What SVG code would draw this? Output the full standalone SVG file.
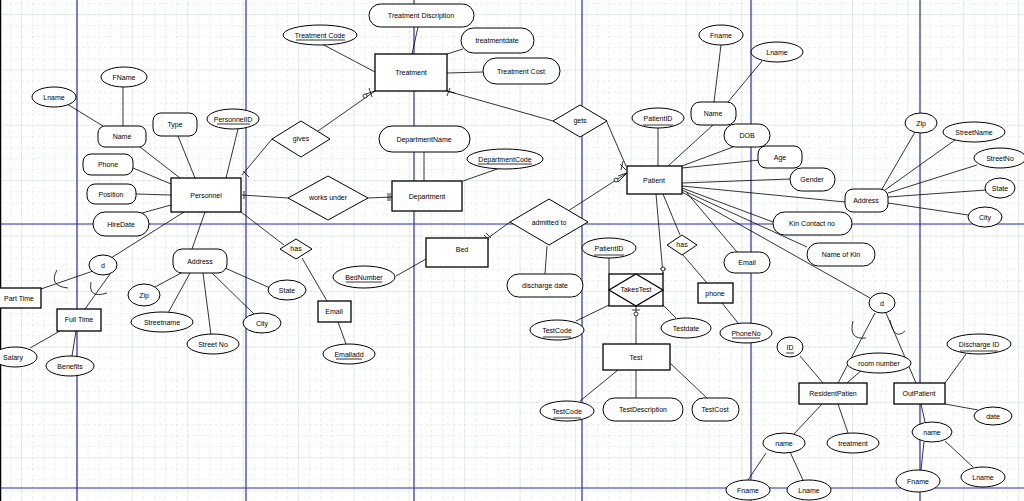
<svg xmlns="http://www.w3.org/2000/svg" width="1024" height="501" viewBox="0 0 1024 501">
<defs>
<pattern id="minor" patternUnits="userSpaceOnUse" x="21" y="14" width="11.08" height="11.08">
<line x1="0" y1="0" x2="0" y2="11.08" stroke="#c9dcdc" stroke-width="0.8" stroke-dasharray="3 2.54"/>
<line x1="0" y1="0" x2="11.08" y2="0" stroke="#c9dcdc" stroke-width="0.8" stroke-dasharray="3 2.54"/>
</pattern>
<pattern id="major" patternUnits="userSpaceOnUse" x="21" y="14" width="55.4" height="55.4">
<line x1="0" y1="0" x2="0" y2="55.4" stroke="#cfe0e0" stroke-width="1"/>
<line x1="0" y1="0" x2="55.4" y2="0" stroke="#cfe0e0" stroke-width="1"/>
</pattern>
<style>
.s{fill:#fff;stroke:#000;stroke-width:1}
.b{fill:#fff;stroke:#000;stroke-width:1.3}
.t{font-family:"Liberation Sans",Arial,sans-serif;font-size:7px;text-anchor:middle;fill:#000}
.c line,.c path{stroke:#000;stroke-width:0.8;fill:none}
.c circle{stroke:#000;stroke-width:0.8;fill:#fff}
.u{stroke:#000;stroke-width:0.8}
.pg{stroke:#2b2bb5;stroke-width:1.2}
</style>
</defs>
<rect width="1024" height="501" fill="#fff"/>
<rect width="1024" height="501" fill="url(#minor)"/>
<rect width="1024" height="501" fill="url(#major)"/>
<g id="pagebreaks">
<line class="pg" x1="77" y1="0" x2="77" y2="501"/>
<line class="pg" x1="246" y1="0" x2="246" y2="501"/>
<line class="pg" x1="414" y1="0" x2="414" y2="501"/>
<line class="pg" x1="582" y1="0" x2="582" y2="501"/>
<line class="pg" x1="751" y1="0" x2="751" y2="501"/>
<line class="pg" x1="920" y1="0" x2="920" y2="501"/>
<line class="pg" x1="0" y1="224" x2="1024" y2="224"/>
<line class="pg" x1="0" y1="488" x2="1024" y2="488"/>
<line x1="0.5" y1="0" x2="0.5" y2="501" stroke="#000" stroke-width="1.5"/>
</g>
<g id="connectors" class="c">
<line x1="140" y1="147" x2="180" y2="178"/>
<line x1="178" y1="136" x2="195" y2="178"/>
<line x1="238" y1="129" x2="226" y2="178"/>
<line x1="133" y1="168" x2="171" y2="184"/>
<line x1="136" y1="194" x2="171" y2="195"/>
<line x1="142" y1="213" x2="171" y2="205"/>
<line x1="184" y1="212" x2="111" y2="258"/>
<line x1="205" y1="212" x2="192" y2="249"/>
<line x1="242" y1="175" x2="272" y2="139"/>
<line x1="242" y1="195" x2="288" y2="198"/>
<line x1="241" y1="212" x2="284" y2="245"/>
<line x1="67" y1="104" x2="103" y2="126"/>
<line x1="123" y1="87" x2="123" y2="126"/>
<line x1="93" y1="271" x2="41" y2="289"/>
<line x1="110" y1="274" x2="85" y2="309"/>
<line x1="30" y1="348" x2="60" y2="331"/>
<line x1="72" y1="356" x2="76" y2="331"/>
<line x1="183" y1="272" x2="155" y2="287"/>
<line x1="190" y1="273" x2="168" y2="313"/>
<line x1="203" y1="273" x2="211" y2="335"/>
<line x1="212" y1="273" x2="255" y2="315"/>
<line x1="225" y1="268" x2="270" y2="288"/>
<line x1="302" y1="258" x2="327" y2="301"/>
<line x1="338" y1="322" x2="346" y2="344"/>
<line x1="322" y1="44" x2="375" y2="72"/>
<line x1="418" y1="27" x2="412" y2="54"/>
<line x1="463" y1="49" x2="447" y2="54"/>
<line x1="483" y1="72" x2="447" y2="73"/>
<line x1="318" y1="131" x2="375" y2="91"/>
<line x1="447" y1="91" x2="553" y2="121"/>
<line x1="606" y1="120" x2="626" y2="166"/>
<line x1="424" y1="152" x2="424" y2="181"/>
<line x1="463" y1="181" x2="500" y2="168"/>
<line x1="368" y1="198" x2="392" y2="197"/>
<line x1="396" y1="276" x2="426" y2="259"/>
<line x1="510" y1="222" x2="488" y2="238"/>
<line x1="568" y1="211" x2="627" y2="173"/>
<line x1="547" y1="246" x2="545" y2="274"/>
<line x1="658" y1="128" x2="658" y2="166"/>
<line x1="713" y1="125" x2="668" y2="166"/>
<line x1="721" y1="45" x2="714" y2="102"/>
<line x1="762" y1="61" x2="728" y2="102"/>
<line x1="733" y1="147" x2="682" y2="166"/>
<line x1="682" y1="168" x2="760" y2="160"/>
<line x1="682" y1="183" x2="790" y2="179"/>
<line x1="682" y1="186" x2="845" y2="202"/>
<line x1="682" y1="188" x2="773" y2="222"/>
<line x1="682" y1="190" x2="807" y2="247"/>
<line x1="682" y1="192" x2="870" y2="298"/>
<line x1="687" y1="193" x2="737" y2="252"/>
<line x1="656" y1="194" x2="663" y2="274"/>
<line x1="663" y1="194" x2="680" y2="235"/>
<line x1="683" y1="255" x2="707" y2="283"/>
<line x1="722" y1="303" x2="738" y2="323"/>
<line x1="882" y1="189" x2="915" y2="132"/>
<line x1="885" y1="190" x2="955" y2="140"/>
<line x1="888" y1="193" x2="977" y2="165"/>
<line x1="888" y1="197" x2="986" y2="190"/>
<line x1="888" y1="203" x2="968" y2="215"/>
<line x1="875" y1="313" x2="838" y2="383"/>
<line x1="886" y1="313" x2="916" y2="383"/>
<line x1="863" y1="369" x2="847" y2="383"/>
<line x1="800" y1="356" x2="823" y2="383"/>
<line x1="822" y1="404" x2="794" y2="434"/>
<line x1="838" y1="404" x2="848" y2="433"/>
<line x1="766" y1="453" x2="748" y2="480"/>
<line x1="790" y1="452" x2="803" y2="480"/>
<line x1="921" y1="404" x2="925" y2="422"/>
<line x1="945" y1="404" x2="978" y2="410"/>
<line x1="945" y1="383" x2="966" y2="354"/>
<line x1="924" y1="442" x2="921" y2="470"/>
<line x1="945" y1="441" x2="973" y2="467"/>
<line x1="636" y1="306" x2="636" y2="344"/>
<line x1="609" y1="305" x2="576" y2="321"/>
<line x1="663" y1="305" x2="676" y2="318"/>
<line x1="609" y1="258" x2="609" y2="274"/>
<line x1="618" y1="370" x2="580" y2="401"/>
<line x1="636" y1="370" x2="636" y2="398"/>
<line x1="670" y1="363" x2="707" y2="398"/>
<path d="M57 270 Q48 286 68 288"/>
<path d="M91 282 Q88 299 107 293"/>
<path d="M853 321 Q848 340 866 338"/>
<path d="M890 320 Q894 341 905 331"/>
<path d="M366 94 L375 91 M369 88 L372 97"/>
<circle cx="365" cy="96" r="2"/>
<path d="M450 88 L447 96 M447 91 L455 93"/>
<path d="M388 193 L388 201 M390 193 L390 201"/>
<path d="M484 235 L489 240 M486 233 L491 238"/>
<path d="M620 164 L626 170 M623 161 L621 170"/>
<path d="M618 176 L627 173 M618 182 L627 173"/>
<circle cx="616" cy="180" r="2"/>
<path d="M243 171 L249 177 M244 191 L244 199"/>
<path d="M660 269 L666 269 M663 272 L663 274"/>
<circle cx="663" cy="269" r="2"/>
<path d="M632 310 L640 310"/>
<circle cx="636" cy="314" r="2"/>
</g>
<g id="Treatment"><rect class="b" x="375" y="54" width="72" height="37"/><text class="t" x="411" y="75">Treatment</text></g>
<g id="Personnel"><rect class="b" x="171" y="178" width="70" height="34"/><text class="t" x="206" y="198">Personnel</text></g>
<g id="Department"><rect class="b" x="392" y="181" width="70" height="30"/><text class="t" x="427" y="199">Department</text></g>
<g id="Bed"><rect class="b" x="426" y="238" width="62" height="29"/><text class="t" x="462" y="252">Bed</text></g>
<g id="Patient"><rect class="b" x="627" y="166" width="55" height="28"/><text class="t" x="654" y="183">Patient</text></g>
<g id="EmailP"><rect class="b" x="318" y="301" width="33" height="21"/><text class="t" x="334" y="314">Email</text></g>
<g id="Test"><rect class="b" x="603" y="344" width="67" height="26"/><text class="t" x="636" y="360">Test</text></g>
<g id="phone"><rect class="b" x="698" y="283" width="35" height="20"/><text class="t" x="715" y="296">phone</text></g>
<g id="PartTime"><rect class="b" x="-2" y="288" width="43" height="20"/><text class="t" x="19" y="301">Part Time</text></g>
<g id="FullTime"><rect class="b" x="57" y="309" width="44" height="22"/><text class="t" x="79" y="322">Full Time</text></g>
<g id="ResidentPatient"><rect class="b" x="799" y="383" width="68" height="21"/><text class="t" x="833" y="396">ResidentPatien</text></g>
<g id="OutPatient"><rect class="b" x="894" y="383" width="51" height="21"/><text class="t" x="919" y="396">OutPatient</text></g>
<g id="TakesTest"><rect class="b" x="609" y="274" width="54" height="32"/><polygon class="b" points="636,274 663,290 636,306 609,290"/><text class="t" x="636" y="292">TakesTest</text></g>
<g id="gives"><polygon class="s" points="301,121 330,139 301,157 272,139"/><text class="t" x="301" y="141">gives</text></g>
<g id="worksunder"><polygon class="s" points="328,176 368,198 328,220 288,198"/><text class="t" x="328" y="200">works under</text></g>
<g id="hasP"><polygon class="s" points="296,239 312,249 296,259 280,249"/><text class="t" x="296" y="251">has</text></g>
<g id="gets"><polygon class="s" points="580,105 607,121 580,137 553,121"/><text class="t" x="580" y="123">gets</text></g>
<g id="admittedto"><polygon class="s" points="549,199 588,222 549,245 510,222"/><text class="t" x="549" y="225">admitted to</text></g>
<g id="hasPa"><polygon class="s" points="682,235 697,245 682,255 667,245"/><text class="t" x="682" y="247">has</text></g>
<g id="LnameP"><ellipse class="s" cx="54" cy="97" rx="22" ry="10"/><text class="t" x="54" y="99.5">Lname</text></g>
<g id="FNameP"><ellipse class="s" cx="124" cy="77" rx="23" ry="10"/><text class="t" x="124" y="79.5">FName</text></g>
<g id="PersonnelID"><ellipse class="s" cx="233" cy="119" rx="26" ry="10"/><text class="t" x="233" y="121.5">PersonnelID</text><line class="u" x1="217" y1="124" x2="250" y2="124"/></g>
<g id="NameP"><rect class="s" x="98" y="126" width="48" height="21" rx="7"/><text class="t" x="122" y="139">Name</text></g>
<g id="Type"><rect class="s" x="153" y="113" width="44" height="23" rx="8"/><text class="t" x="175" y="127">Type</text></g>
<g id="Phone"><rect class="s" x="83" y="154" width="50" height="21" rx="8"/><text class="t" x="108" y="167">Phone</text></g>
<g id="Position"><rect class="s" x="87" y="184" width="49" height="20" rx="8"/><text class="t" x="111" y="196.5">Position</text></g>
<g id="HireDate"><rect class="s" x="93" y="212" width="56" height="24" rx="12"/><text class="t" x="121" y="226.5">HireDate</text></g>
<g id="dP"><ellipse class="s" cx="103" cy="265" rx="14" ry="10"/><text class="t" x="103" y="267.5">d</text></g>
<g id="AddressP"><rect class="s" x="173" y="249" width="54" height="24" rx="9"/><text class="t" x="200" y="263.5">Address</text></g>
<g id="ZipP"><ellipse class="s" cx="144" cy="295" rx="16" ry="11"/><text class="t" x="144" y="297.5">Zip</text></g>
<g id="Streetname"><ellipse class="s" cx="162" cy="322" rx="31" ry="10"/><text class="t" x="162" y="324.5">Streetname</text></g>
<g id="StreetNoP"><ellipse class="s" cx="213" cy="344" rx="26" ry="10"/><text class="t" x="213" y="346.5">Street No</text></g>
<g id="CityP"><ellipse class="s" cx="262" cy="323" rx="19" ry="10"/><text class="t" x="262" y="325.5">City</text></g>
<g id="StateP"><ellipse class="s" cx="287" cy="290" rx="19" ry="10"/><text class="t" x="287" y="292.5">State</text></g>
<g id="Emailadd"><ellipse class="s" cx="349" cy="354" rx="26" ry="10"/><text class="t" x="349" y="356.5">Emailadd</text><line class="u" x1="336" y1="359" x2="362" y2="359"/></g>
<g id="Salary"><ellipse class="s" cx="15" cy="357" rx="22" ry="10"/><text class="t" x="13" y="359.5">Salary</text></g>
<g id="Benefits"><ellipse class="s" cx="70" cy="366" rx="24" ry="10"/><text class="t" x="70" y="368.5">Benefits</text></g>
<g id="TreatmentDiscription"><rect class="s" x="369" y="4" width="105" height="23" rx="11.5"/><text class="t" x="421" y="18">Treatment Discription</text></g>
<g id="TreatmentCode"><ellipse class="s" cx="320" cy="35" rx="37" ry="10"/><text class="t" x="320" y="37.5">Treatment Code</text><line class="u" x1="296" y1="40" x2="345" y2="40"/></g>
<g id="treatmentdate"><rect class="s" x="461" y="28" width="73" height="25" rx="12.5"/><text class="t" x="497" y="43">treatmentdate</text></g>
<g id="TreatmentCost"><rect class="s" x="483" y="58" width="77" height="26" rx="13"/><text class="t" x="521" y="73.5">Treatment Cost</text></g>
<g id="DepartmentName"><rect class="s" x="379" y="126" width="91" height="26" rx="13"/><text class="t" x="424" y="141.5">DepartmentName</text></g>
<g id="DepartmentCode"><ellipse class="s" cx="505" cy="159" rx="38" ry="10"/><text class="t" x="505" y="161.5">DepartmentCode</text><line class="u" x1="478" y1="164" x2="532" y2="164"/></g>
<g id="BedNumber"><ellipse class="s" cx="364" cy="277" rx="31" ry="11"/><text class="t" x="364" y="279.5">BedNumber</text><line class="u" x1="346" y1="282" x2="382" y2="282"/></g>
<g id="PatientID1"><ellipse class="s" cx="658" cy="118" rx="26" ry="10"/><text class="t" x="658" y="120.5">PatientID</text><line class="u" x1="643" y1="125" x2="673" y2="125"/></g>
<g id="NamePa"><rect class="s" x="691" y="102" width="45" height="23" rx="9"/><text class="t" x="713" y="116">Name</text></g>
<g id="FnamePa"><ellipse class="s" cx="721" cy="35" rx="22" ry="10"/><text class="t" x="721" y="37.5">Fname</text></g>
<g id="LnamePa"><ellipse class="s" cx="777" cy="52" rx="26" ry="10"/><text class="t" x="777" y="54.5">Lname</text></g>
<g id="DOB"><rect class="s" x="724" y="124" width="46" height="23" rx="11.5"/><text class="t" x="747" y="138">DOB</text></g>
<g id="Age"><rect class="s" x="758" y="146" width="44" height="22" rx="8"/><text class="t" x="780" y="159.5">Age</text></g>
<g id="Gender"><rect class="s" x="790" y="168" width="45" height="23" rx="11.5"/><text class="t" x="812" y="182">Gender</text></g>
<g id="AddressPa"><rect class="s" x="845" y="189" width="43" height="23" rx="8"/><text class="t" x="866" y="203">Address</text></g>
<g id="ZipPa"><ellipse class="s" cx="921" cy="123" rx="16" ry="10"/><text class="t" x="921" y="125.5">Zip</text></g>
<g id="StreetNamePa"><ellipse class="s" cx="974" cy="132" rx="31" ry="10"/><text class="t" x="974" y="134.5">StreetName</text></g>
<g id="StreetNoPa"><ellipse class="s" cx="1000" cy="158" rx="26" ry="10"/><text class="t" x="1000" y="160.5">StreetNo</text></g>
<g id="StatePa"><ellipse class="s" cx="1000" cy="188" rx="15" ry="10"/><text class="t" x="1000" y="190.5">State</text></g>
<g id="CityPa"><ellipse class="s" cx="985" cy="217" rx="17" ry="10"/><text class="t" x="985" y="219.5">City</text></g>
<g id="KinContact"><rect class="s" x="773" y="212" width="79" height="23" rx="11.5"/><text class="t" x="812" y="226">Kin Contact no</text></g>
<g id="NameofKin"><rect class="s" x="807" y="243" width="68" height="23" rx="11.5"/><text class="t" x="841" y="257">Name of Kin</text></g>
<g id="EmailPa"><rect class="s" x="724" y="252" width="46" height="21" rx="10.5"/><text class="t" x="747" y="265">Email</text></g>
<g id="dPa"><ellipse class="s" cx="882" cy="303" rx="13" ry="10"/><text class="t" x="882" y="305.5">d</text></g>
<g id="dischargedate"><rect class="s" x="507" y="274" width="76" height="23" rx="11.5"/><text class="t" x="545" y="288">discharge date</text></g>
<g id="PatientID2"><ellipse class="s" cx="609" cy="248" rx="27" ry="10"/><text class="t" x="609" y="250.5">PatientID</text><line class="u" x1="594" y1="255" x2="624" y2="255"/></g>
<g id="Testdate"><ellipse class="s" cx="686" cy="328" rx="25" ry="10"/><text class="t" x="686" y="330.5">Testdate</text></g>
<g id="PhoneNo"><ellipse class="s" cx="746" cy="333" rx="26" ry="10"/><text class="t" x="746" y="335.5">PhoneNo</text><line class="u" x1="732" y1="338" x2="760" y2="338"/></g>
<g id="TestCode1"><ellipse class="s" cx="557" cy="330" rx="27" ry="10"/><text class="t" x="557" y="332.5">TestCode</text><line class="u" x1="543" y1="337" x2="571" y2="337"/></g>
<g id="TestCode2"><ellipse class="s" cx="567" cy="411" rx="27" ry="10"/><text class="t" x="567" y="413.5">TestCode</text><line class="u" x1="553" y1="418" x2="581" y2="418"/></g>
<g id="TestDescription"><rect class="s" x="603" y="398" width="80" height="23" rx="11.5"/><text class="t" x="643" y="412">TestDescription</text></g>
<g id="TestCost"><rect class="s" x="692" y="398" width="47" height="23" rx="11.5"/><text class="t" x="715" y="412">TestCost</text></g>
<g id="ID"><ellipse class="s" cx="790" cy="347" rx="13" ry="10"/><text class="t" x="790" y="349.5">ID</text><line class="u" x1="786" y1="353" x2="794" y2="353"/></g>
<g id="roomnumber"><ellipse class="s" cx="879" cy="363" rx="32" ry="10"/><text class="t" x="879" y="365.5">room number</text></g>
<g id="DischargeID"><ellipse class="s" cx="979" cy="344" rx="32" ry="10"/><text class="t" x="979" y="346.5">Discharge ID</text><line class="u" x1="960" y1="351" x2="998" y2="351"/></g>
<g id="date"><ellipse class="s" cx="993" cy="416" rx="19" ry="9"/><text class="t" x="993" y="418.5">date</text></g>
<g id="nameOut"><ellipse class="s" cx="932" cy="432" rx="20" ry="10"/><text class="t" x="932" y="434.5">name</text></g>
<g id="FnameOut"><ellipse class="s" cx="918" cy="481" rx="22" ry="11"/><text class="t" x="918" y="483.5">Fname</text></g>
<g id="LnameOut"><ellipse class="s" cx="983" cy="477" rx="22" ry="10"/><text class="t" x="983" y="479.5">Lname</text></g>
<g id="nameRes"><ellipse class="s" cx="784" cy="443" rx="21" ry="10"/><text class="t" x="784" y="445.5">name</text></g>
<g id="treatment"><ellipse class="s" cx="853" cy="443" rx="26" ry="10"/><text class="t" x="853" y="445.5">treatment</text></g>
<g id="LnameRes"><ellipse class="s" cx="809" cy="490" rx="22" ry="10"/><text class="t" x="809" y="492.5">Lname</text></g>
<g id="FnameRes"><ellipse class="s" cx="748" cy="490" rx="22" ry="10"/><text class="t" x="748" y="492.5">Fname</text></g>
</svg>
